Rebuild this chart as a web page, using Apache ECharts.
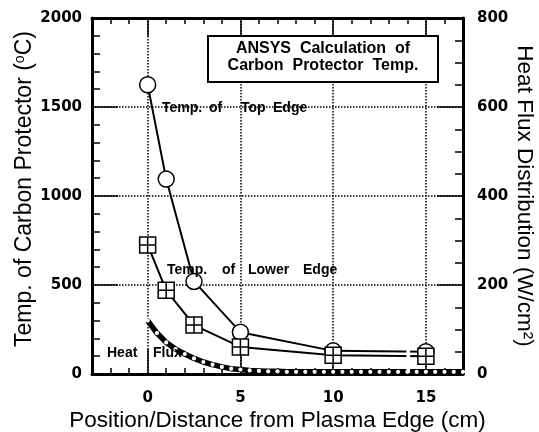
<!DOCTYPE html>
<html>
<head>
<meta charset="utf-8">
<script src="https://cdn.jsdelivr.net/npm/echarts@6/dist/echarts.min.js"></script>
<style>html,body{margin:0;padding:0;background:#fff;}#c{width:539px;height:432px;}</style>
</head>
<body>
<div id="c"></div>
<script>
// ---- data ----
const edgeX = [0, 1, 2.5, 5, 10, 15];
const topEdgeTemp = [1625, 1095, 520, 235, 130, 125];
const lowerEdgeTemp = [725, 470, 275, 152, 105, 100];
const fluxX = [0, 0.5, 1, 1.5, 2, 2.5, 3, 3.5, 4, 4.5, 5, 5.5, 6, 6.5, 7, 7.5, 8, 8.5, 9, 9.5, 10, 10.5, 11, 11.5, 12, 12.5, 13, 13.5, 14, 14.5, 15, 15.5, 16, 16.5, 17];
const heatFlux = [120, 92, 71, 56, 45, 35, 27, 21, 16, 12, 10, 8, 7, 6, 6, 5, 5, 5, 5, 5, 5, 5, 5, 5, 5, 5, 5, 5, 5, 5, 5, 5, 5, 5, 5];
const xTickValues = [0, 5, 10, 15];
const breakX = [13.95, 14.15];
const breakFluxRange = [2.5, 60];

const pair = (xs, ys) => xs.map((x, i) => [x, ys[i]]);

const tickFont = {fontFamily: 'DejaVu Sans', fontWeight: 'bold', fontSize: 15, color: '#000'};
const nameFont = {fontFamily: 'Liberation Sans', fontSize: 22.5, color: '#000'};
const lineBlack = {color: '#000', width: 3};
const tickStyle = {color: '#000', width: 1.5};
const dotted = {color: '#000', width: 1.5, type: 'dotted'};
const xBase = {type: 'value', min: -3, max: 17, interval: 1, gridIndex: 0};
const plain = v => String(v);

const labelFont = 'bold 14px "Liberation Sans"';
function word(text, x, y) {
  return {type: 'text', z: 21, x: x, y: y,
    style: {text: text, font: labelFont, fill: '#000', textAlign: 'left', textVerticalAlign: 'middle'}};
}

const chart = echarts.init(document.getElementById('c'), null, {renderer: 'canvas'});
chart.setOption({
  backgroundColor: '#fff',
  animation: false,
  grid: {left: 92, right: 76, top: 18, bottom: 58, containLabel: false, outerBoundsMode: 'none'},
  xAxis: [
    Object.assign({}, xBase, {
      position: 'bottom',
      axisLine: {show: true, onZero: false, lineStyle: lineBlack},
      axisTick: {show: true, inside: true, length: 6, lineStyle: tickStyle},
      axisLabel: Object.assign({customValues: xTickValues, margin: 17, formatter: plain}, tickFont),
      splitLine: {show: false},
      name: 'Position/Distance from Plasma Edge (cm)',
      nameLocation: 'middle', nameGap: 35, nameMoveOverlap: false, nameTextStyle: nameFont
    }),
    Object.assign({}, xBase, {
      position: 'bottom',
      axisLine: {show: false, onZero: false},
      axisTick: {show: true, inside: true, length: 25, customValues: xTickValues, lineStyle: tickStyle},
      axisLabel: {show: false},
      splitLine: {show: true, lineStyle: dotted}
    }),
    Object.assign({}, xBase, {
      position: 'top',
      axisLine: {show: true, onZero: false, lineStyle: lineBlack},
      axisTick: {show: true, inside: true, length: 6, lineStyle: tickStyle},
      axisLabel: {show: false},
      splitLine: {show: false}
    }),
    Object.assign({}, xBase, {
      position: 'top',
      axisLine: {show: false, onZero: false},
      axisTick: {show: true, inside: true, length: 18, customValues: xTickValues, lineStyle: tickStyle},
      axisLabel: {show: false},
      splitLine: {show: false}
    })
  ],
  yAxis: [
    {
      type: 'value', position: 'left', min: 0, max: 2000, interval: 500,
      axisLine: {show: true, onZero: false, lineStyle: lineBlack},
      axisTick: {show: true, inside: true, length: 26, lineStyle: tickStyle},
      minorTick: {show: true, splitNumber: 5, length: 8, lineStyle: tickStyle},
      axisLabel: Object.assign({margin: 10, formatter: plain}, tickFont),
      splitLine: {show: true, lineStyle: dotted},
      name: 'Temp. of Carbon Protector ({sup|o}C)',
      nameLocation: 'middle', nameGap: 56, nameMoveOverlap: false,
      nameTextStyle: Object.assign({}, nameFont, {fontSize: 23, padding: [0, 0, 0, 14], rich: {sup: {fontFamily: 'Liberation Sans', fontSize: 14, verticalAlign: 'top', color: '#000'}}})
    },
    {
      type: 'value', position: 'right', min: 0, max: 800, interval: 200,
      axisLine: {show: true, onZero: false, lineStyle: lineBlack},
      axisTick: {show: true, inside: true, length: 26, lineStyle: tickStyle},
      minorTick: {show: true, splitNumber: 4, length: 8, lineStyle: tickStyle},
      axisLabel: Object.assign({margin: 14, formatter: plain}, tickFont),
      splitLine: {show: false},
      name: 'Heat Flux Distribution (W/cm\u00B2)',
      nameLocation: 'middle', nameGap: 50, nameRotate: -90, nameMoveOverlap: false,
      nameTextStyle: nameFont
    }
  ],
  series: [
    {
      type: 'line', name: 'Heat Flux', xAxisIndex: 0, yAxisIndex: 1,
      data: pair(fluxX, heatFlux),
      lineStyle: {color: '#000', width: 5.5},
      symbol: 'circle', symbolSize: 4.2, showSymbol: true,
      itemStyle: {color: '#fff', borderWidth: 0},
      z: 3, silent: true,
      markArea: {
        silent: true, z: 10,
        itemStyle: {color: '#fff', borderWidth: 0},
        data: [[{xAxis: breakX[0], yAxis: breakFluxRange[0]}, {xAxis: breakX[1], yAxis: breakFluxRange[1]}]]
      }
    },
    {
      type: 'line', name: 'Top Edge', xAxisIndex: 0, yAxisIndex: 0,
      data: pair(edgeX, topEdgeTemp),
      lineStyle: {color: '#000', width: 2},
      symbol: 'circle', symbolSize: 16, showSymbol: true,
      itemStyle: {color: '#fff', borderColor: '#000', borderWidth: 1.5},
      z: 4, silent: true
    },
    {
      type: 'line', name: 'Lower Edge', xAxisIndex: 0, yAxisIndex: 0,
      data: pair(edgeX, lowerEdgeTemp),
      lineStyle: {color: '#000', width: 2},
      symbol: 'path://M0,0H16V16H0Z M8,0V16 M0,8H16', symbolSize: 16, symbolKeepAspect: true, showSymbol: true,
      itemStyle: {color: '#fff', borderColor: '#000', borderWidth: 1.5},
      z: 5, silent: true
    }
  ],
  graphic: [
    {type: 'rect', z: 20, shape: {x: 208, y: 36, width: 230, height: 46},
     style: {fill: '#fff', stroke: '#000', lineWidth: 2}},
    {type: 'text', z: 21, x: 323, y: 49,
     style: {text: 'ANSYS  Calculation  of', font: 'bold 16px "Liberation Sans"', fill: '#000', textAlign: 'center', textVerticalAlign: 'middle'}},
    {type: 'text', z: 21, x: 323, y: 66,
     style: {text: 'Carbon  Protector  Temp.', font: 'bold 16px "Liberation Sans"', fill: '#000', textAlign: 'center', textVerticalAlign: 'middle'}},
    word('Temp.', 162, 108), word('of', 209, 108), word('Top', 241, 108), word('Edge', 273, 108),
    word('Temp.', 167, 270), word('of', 222, 270), word('Lower', 248, 270), word('Edge', 303, 270),
    word('Heat', 107, 353), word('Flux', 153, 353)
  ]
});
</script>
</body>
</html>
